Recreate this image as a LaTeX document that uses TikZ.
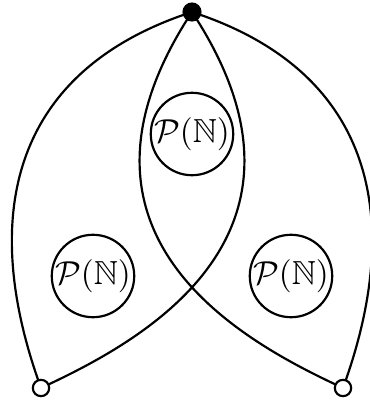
\documentclass[tikz,border=0pt]{standalone}
\usepackage{amssymb}
\begin{document}
\begin{tikzpicture}[x=0.33pt,y=0.33pt,
  line width=0.72pt,
  setnode/.style={draw,circle,minimum size=25.7pt,inner sep=0pt,font=\fontsize{11}{13}\selectfont},
  blackdot/.style={draw,circle,fill=black,minimum size=5.6pt,inner sep=0pt},
  whitedot/.style={draw,circle,fill=white,minimum size=5.4pt,inner sep=0pt}]
\useasboundingbox (0,0) rectangle (370,400);
\coordinate (T) at (192,388);
\coordinate (L) at (41,12);
\coordinate (R) at (343,12);
\node[setnode] (c) at (192,266) {$\mathcal{P}(\mathbb{N})$};
\node[setnode] (l) at (93,124) {$\mathcal{P}(\mathbb{N})$};
\node[setnode] (r) at (291,124) {$\mathcal{P}(\mathbb{N})$};
% outer curves
\draw (T) to[out=198,in=110,looseness=1.18] (L);
\draw (T) to[out=-18,in=70,looseness=1.18] (R);
% inner crossing curves
\draw (T) .. controls (42,160) and (252.4,54.3) .. (R);
\draw (T) .. controls (342,160) and (131.6,54.3) .. (L);
\node[blackdot] (top) at (T) {};
\node[whitedot] (bl) at (L) {};
\node[whitedot] (br) at (R) {};
\end{tikzpicture}
\end{document}
